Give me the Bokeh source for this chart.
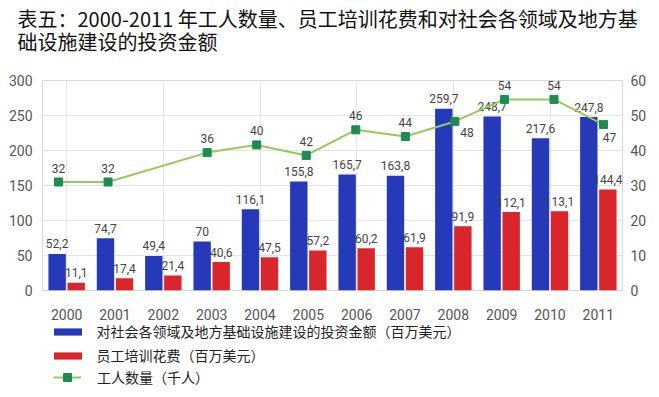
from bokeh.plotting import figure
from bokeh.layouts import column
from bokeh.models import (Range1d, LinearAxis, FixedTicker, ColumnDataSource,
                          Legend, LegendItem, Title)
from bokeh.transform import dodge
from bokeh.core.properties import value
from bokeh.embed import file_html
from bokeh.resources import INLINE

# ---------------- data ----------------
years = ["2000", "2001", "2002", "2003", "2004", "2005",
         "2006", "2007", "2008", "2009", "2010", "2011"]
invest = [52.2, 74.7, 49.4, 70, 116.1, 155.8, 165.7, 163.8, 259.7, 248.7, 217.6, 247.8]
invest_labels = ["52,2", "74,7", "49,4", "70", "116,1", "155,8",
                 "165,7", "163,8", "259,7", "248,7", "217,6", "247,8"]
training = [11.1, 17.4, 21.4, 40.6, 47.5, 57.2, 60.2, 61.9, 91.9, 112.1, 113.1, 144.4]
training_labels = ["11,1", "17,4", "21,4", "40,6", "47,5", "57,2",
                   "60,2", "61,9", "91,9", "112,1", "113,1", "144,4"]
worker_years = ["2000", "2001", "2003", "2004", "2005", "2006",
                "2007", "2008", "2009", "2010", "2011"]
workers = [31, 31, 39.4, 41.6, 38.6, 45.9, 44, 48.3, 54.6, 54.6, 47.4]
worker_labels = ["32", "32", "36", "40", "42", "46", "44", "48", "54", "54", "47"]
left_ticks = [0, 50, 100, 150, 200, 250, 300]
right_ticks = [0, 10, 20, 30, 40, 50, 60]

title_lines = ["表五：2000-2011 年工人数量、员工培训花费和对社会各领域及地方基",
               "础设施建设的投资金额"]
name_invest = "对社会各领域及地方基础设施建设的投资金额（百万美元）"
name_training = "员工培训花费（百万美元）"
name_workers = "工人数量（千人）"

# ---------------- styles ----------------
BLUE = "#2639b8"
RED = "#d8262c"
GREEN_LINE = "#93ca5c"
GREEN_MARK = "#1f8a52"
NUM_FONT = value("Roboto")
CJK_FONT = "Noto Sans CJK SC"
WIDTH = 652
BORDER_L, BORDER_R = 42, 30

idx = list(range(len(years)))
bar_src = ColumnDataSource(dict(i=idx, invest=invest, invest_labels=invest_labels,
                                training=training, training_labels=training_labels))
w_idx = [years.index(y) for y in worker_years]
w_dx = [12 if y == "2008" else (6 if y == "2011" else 0) for y in worker_years]
w_dy = [11 if y == "2008" else (13 if y == "2011" else -14) for y in worker_years]
line_src = ColumnDataSource(dict(i=w_idx, workers=workers, labels=worker_labels,
                                 dx=w_dx, dy=w_dy))

xr = Range1d(-0.5, 11.5)
p = figure(width=WIDTH, height=300, output_backend="svg", toolbar_location=None,
           x_range=xr, y_range=Range1d(0, 300), x_axis_location=None,
           min_border_left=BORDER_L, min_border_right=BORDER_R, min_border_top=80,
           min_border_bottom=10, background_fill_color="white",
           border_fill_color="white", outline_line_color="#d3d8e2")
p.extra_y_ranges = {"workers": Range1d(0, 60)}
p.extra_x_ranges = {"wx": Range1d(-0.323, 11.383)}

# bars
p.vbar(x=dodge("i", -0.197), top="invest", width=0.36, source=bar_src,
       fill_color=BLUE, line_color=None)
p.vbar(x=dodge("i", 0.197), top="training", width=0.36, source=bar_src,
       fill_color=RED, line_color=None)
p.text(x=dodge("i", -0.197), y="invest", text="invest_labels", source=bar_src,
       y_offset=-10, text_align="center", text_baseline="middle",
       text_font=NUM_FONT, text_font_size="12px", text_color="#444444")
p.text(x=dodge("i", 0.197), y="training", text="training_labels", source=bar_src,
       y_offset=-10, text_align="center", text_baseline="middle",
       text_font=NUM_FONT, text_font_size="12px", text_color="#444444")

# line
p.line(x="i", y="workers", source=line_src, x_range_name="wx",
       y_range_name="workers", line_color=GREEN_LINE, line_width=2)
p.scatter(x="i", y="workers", source=line_src, x_range_name="wx",
          y_range_name="workers", marker="square", size=8,
          fill_color=GREEN_MARK, line_color=GREEN_MARK)
p.text(x="i", y="workers", text="labels", source=line_src, x_range_name="wx",
       y_range_name="workers", x_offset="dx", y_offset="dy",
       text_align="center", text_baseline="middle",
       text_font=NUM_FONT, text_font_size="12px", text_color="#444444")

# axes
p.ygrid.grid_line_color = "#dfe3ec"
p.ygrid.ticker = FixedTicker(ticks=left_ticks)
p.yaxis.ticker = FixedTicker(ticks=left_ticks)
right = LinearAxis(y_range_name="workers", ticker=FixedTicker(ticks=right_ticks))
p.add_layout(right, "right")


def style_axis(ax, standoff):
    ax.axis_line_color = None
    ax.major_tick_line_color = None
    ax.minor_tick_line_color = None
    ax.major_tick_out = 0
    ax.major_tick_in = 0
    ax.major_label_text_font = "Roboto"
    ax.major_label_text_font_size = "14px"
    ax.major_label_text_color = "#555555"
    ax.major_label_standoff = standoff


style_axis(p.yaxis[0], 10)
style_axis(right, 8)

# title (a blank third line lifts the two text lines towards the top)
p.title = Title(text="\n".join(title_lines + ["\u00a0"]), align="left",
                text_font=CJK_FONT, text_font_size="20px",
                text_font_style="normal", text_line_height=0.8,
                text_color="#111111", offset=-25, standoff=2)

# ---------------- x labels + legend strip ----------------
leg = figure(width=WIDTH, height=90, output_backend="svg", toolbar_location=None,
             x_range=xr, y_range=Range1d(1000, 1001),
             x_axis_location="above", y_axis_type=None,
             min_border_left=BORDER_L, min_border_right=BORDER_R, min_border_top=21,
             min_border_bottom=0, outline_line_color=None,
             background_fill_color="white", border_fill_color="white")
leg.grid.visible = False
leg.xaxis.ticker = FixedTicker(ticks=idx)
leg.xaxis.major_label_overrides = {i: y for i, y in enumerate(years)}
style_axis(leg.xaxis[0], 2)

# legend proxies (outside the visible y range of this strip)
k1 = leg.vbar(x=dodge("i", -0.197), top="invest", width=0.36, source=bar_src,
              fill_color=BLUE, line_color=None)
k2 = leg.vbar(x=dodge("i", 0.197), top="training", width=0.36, source=bar_src,
              fill_color=RED, line_color=None)
k3 = leg.line(x="i", y="workers", source=line_src, line_color=GREEN_LINE, line_width=2)
k4 = leg.scatter(x="i", y="workers", source=line_src, marker="square", size=8,
                 fill_color=GREEN_MARK, line_color=GREEN_MARK)

common = dict(orientation="vertical", label_height=18, spacing=0, padding=0,
              margin=0, border_line_color=None, background_fill_alpha=0,
              label_text_font=CJK_FONT, label_text_font_size="14px",
              label_text_color="#222222")
leg.add_layout(Legend(items=[LegendItem(label=name_invest, renderers=[k1])],
                      location=(7.5, 49), glyph_width=35, glyph_height=9,
                      label_standoff=12, **common), "center")
leg.add_layout(Legend(items=[LegendItem(label=name_training, renderers=[k2])],
                      location=(7.5, 25), glyph_width=35, glyph_height=9,
                      label_standoff=12, **common), "center")
leg.add_layout(Legend(items=[LegendItem(label=name_workers, renderers=[k3, k4])],
                      location=(11, 3), glyph_width=28, glyph_height=20,
                      label_standoff=16, **common), "center")

layout = column(p, leg, spacing=0)
open("out.html", "w").write(file_html(layout, INLINE))
